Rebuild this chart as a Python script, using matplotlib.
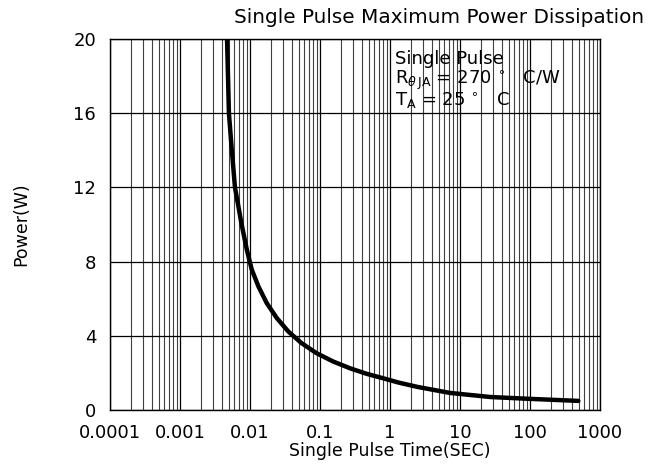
import numpy as np
import matplotlib
matplotlib.use('Agg')
import matplotlib.pyplot as plt
from matplotlib.ticker import LogLocator, FixedLocator, NullFormatter

plt.rcParams['font.family'] = ['DejaVu Sans']

# curve (time in s, power in W)
pulse_time = [0.0047, 0.0050, 0.0055, 0.0061, 0.0076, 0.0090, 0.0106, 0.0132,
              0.0173, 0.0241, 0.0353, 0.0547, 0.0896, 0.155, 0.268, 0.464,
              0.80, 1.32, 2.5, 7.2, 27, 100, 490]
power = [20, 16, 14, 12, 10, 8.65, 7.57, 6.66, 5.77, 4.96, 4.23, 3.60, 3.06,
         2.61, 2.25, 1.95, 1.71, 1.48, 1.24, 0.92, 0.70, 0.60, 0.49]

x_ticks = [1e-4, 1e-3, 1e-2, 1e-1, 1, 10, 100, 1000]
x_tick_labels = ['0.0001', '0.001', '0.01', '0.1', '1', '10', '100', '1000']
y_ticks = [0, 4, 8, 12, 16, 20]

fig = plt.figure(figsize=(6.61, 4.65), dpi=100)
ax = fig.add_axes([0.1664, 0.1183, 0.7413, 0.7978])

ax.set_xscale('log')
ax.set_xlim(1e-4, 1000)
ax.set_ylim(0, 20)

ax.xaxis.set_major_locator(FixedLocator(x_ticks))
ax.set_xticklabels(x_tick_labels)
ax.xaxis.set_minor_locator(LogLocator(base=10, subs=np.arange(2, 10), numticks=20))
ax.xaxis.set_minor_formatter(NullFormatter())
ax.set_yticks(y_ticks)

ax.grid(True, which='major', axis='both', color='black', linewidth=0.9)
ax.grid(True, which='minor', axis='x', color='#404040', linewidth=0.8)
ax.set_axisbelow(True)

ax.tick_params(which='both', length=0)
ax.tick_params(axis='x', labelsize=13, pad=10)
ax.tick_params(axis='y', labelsize=13, pad=10)

for spine in ax.spines.values():
    spine.set_linewidth(1.0)
    spine.set_color('black')

ax.plot(pulse_time, power, color='black', linewidth=3.2,
        solid_capstyle='round', solid_joinstyle='round')

fig.text(0.664, 0.963, 'Single Pulse Maximum Power Dissipation', ha='center', va='center',
         fontsize=14.4)
ax.set_xlabel('Single Pulse Time(SEC)', fontsize=12.5)
ax.xaxis.set_label_coords(0.57, -0.086)
ax.set_ylabel('Power(W)', fontsize=12.5)
ax.yaxis.set_label_coords(-0.162, 0.5)

ax.text(0.582, 0.946, 'Single Pulse', transform=ax.transAxes, fontsize=13, va='center')
ax.text(0.582, 0.889, r'R$_{\theta\,\mathrm{JA}}$ = 270 $^{\circ}$   C/W', transform=ax.transAxes,
        fontsize=13, va='center')
ax.text(0.582, 0.832, r'T$_\mathrm{A}$ = 25 $^{\circ}$   C', transform=ax.transAxes,
        fontsize=13, va='center')

fig.savefig('out.png', dpi=100)
